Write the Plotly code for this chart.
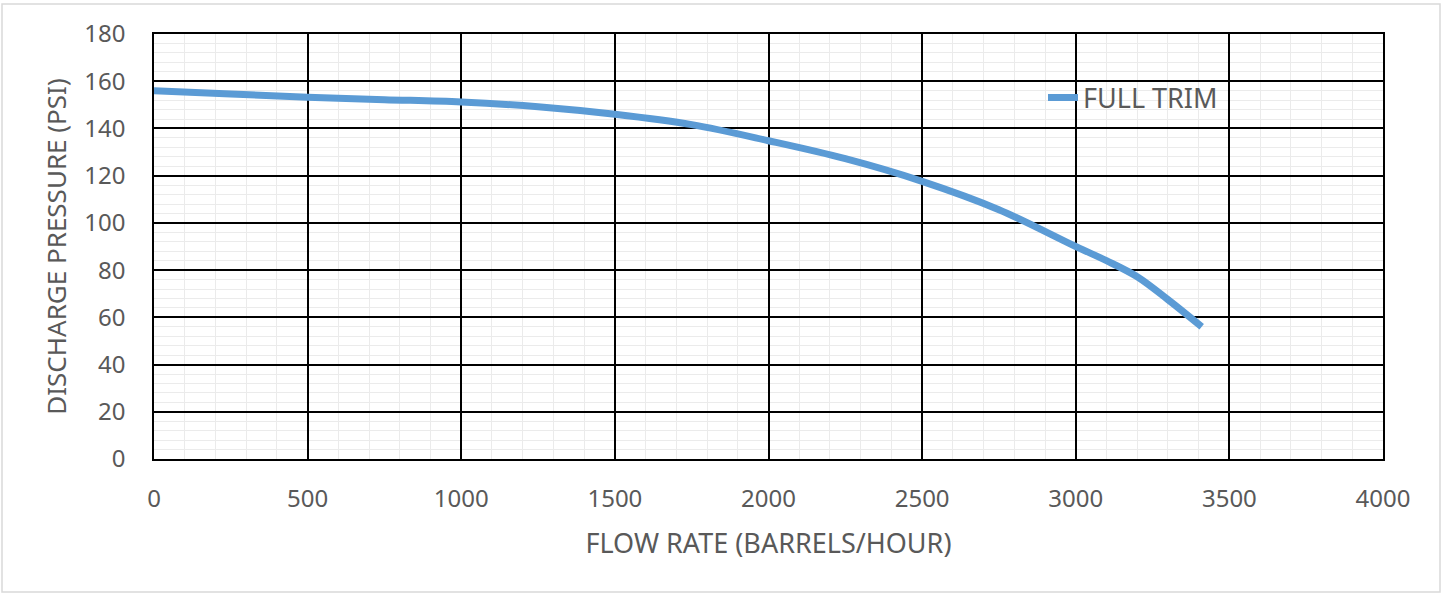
import plotly.graph_objects as go

flow = [0, 250, 500, 750, 1000, 1250, 1500, 1750, 2000, 2250, 2500, 2750, 3000, 3100, 3200, 3300, 3410]
pressure = [156, 154.6, 153.2, 152.2, 151.2, 149.2, 146, 141.6, 134.8, 127.2, 117.6, 105.6, 90, 84, 77.2, 67.5, 56]
series_name = "FULL TRIM"
x_title = "FLOW RATE (BARRELS/HOUR)"
y_title = "DISCHARGE PRESSURE (PSI)"

FONT = "Noto Sans"
GRAY = "#595959"

fig = go.Figure()
fig.add_trace(go.Scatter(
    x=flow, y=pressure, mode="lines", name=series_name,
    line=dict(color="#5B9BD5", width=7, shape="spline", smoothing=1.0),
))

W, H = 1448, 594
L, T = 154, 34
PW, PH = 1229, 425
R, B = W - L - PW, H - T - PH

fig.update_layout(
    width=W, height=H,
    margin=dict(l=L, r=R, t=T, b=B, pad=0),
    paper_bgcolor="white", plot_bgcolor="white",
    font=dict(family=FONT, color=GRAY, size=24),
    showlegend=True,
    legend=dict(x=(1043 - L) / PW, y=(459 - 98) / PH, xanchor="left", yanchor="middle",
                bgcolor="rgba(0,0,0,0)", font=dict(size=27, color=GRAY, family=FONT),
                itemwidth=30),
    xaxis=dict(range=[0, 4000], dtick=500, showgrid=True, gridcolor="black", gridwidth=1.5,
               zeroline=False, showline=True, linecolor="black", linewidth=1.5, mirror=True,
               ticks="", ticklabelstandoff=17, tickfont=dict(size=24, color=GRAY),
               minor=dict(dtick=100, showgrid=True, gridcolor="#EBEBEB", gridwidth=1.2),
               title=dict(text=x_title, font=dict(size=27, color=GRAY), standoff=22)),
    yaxis=dict(range=[0, 180], dtick=20, showgrid=True, gridcolor="black", gridwidth=1.5,
               zeroline=False, showline=True, linecolor="black", linewidth=1.5, mirror=True,
               ticks="", ticklabelstandoff=22, tickfont=dict(size=24, color=GRAY),
               minor=dict(dtick=4, showgrid=True, gridcolor="#EBEBEB", gridwidth=1.2),
               title=dict(text=y_title, font=dict(size=26, color=GRAY), standoff=10)),
    shapes=[dict(type="rect", xref="paper", yref="paper",
                 x0=(2 - L) / PW, x1=(1440 - L) / PW,
                 y0=(T + PH - 592) / PH, y1=(T + PH - 4) / PH,
                 line=dict(color="#D9D9D9", width=1.5), layer="below")],
)

fig.write_html("out.html", config={"displayModeBar": False},
               post_script="document.body.style.margin='0';")
